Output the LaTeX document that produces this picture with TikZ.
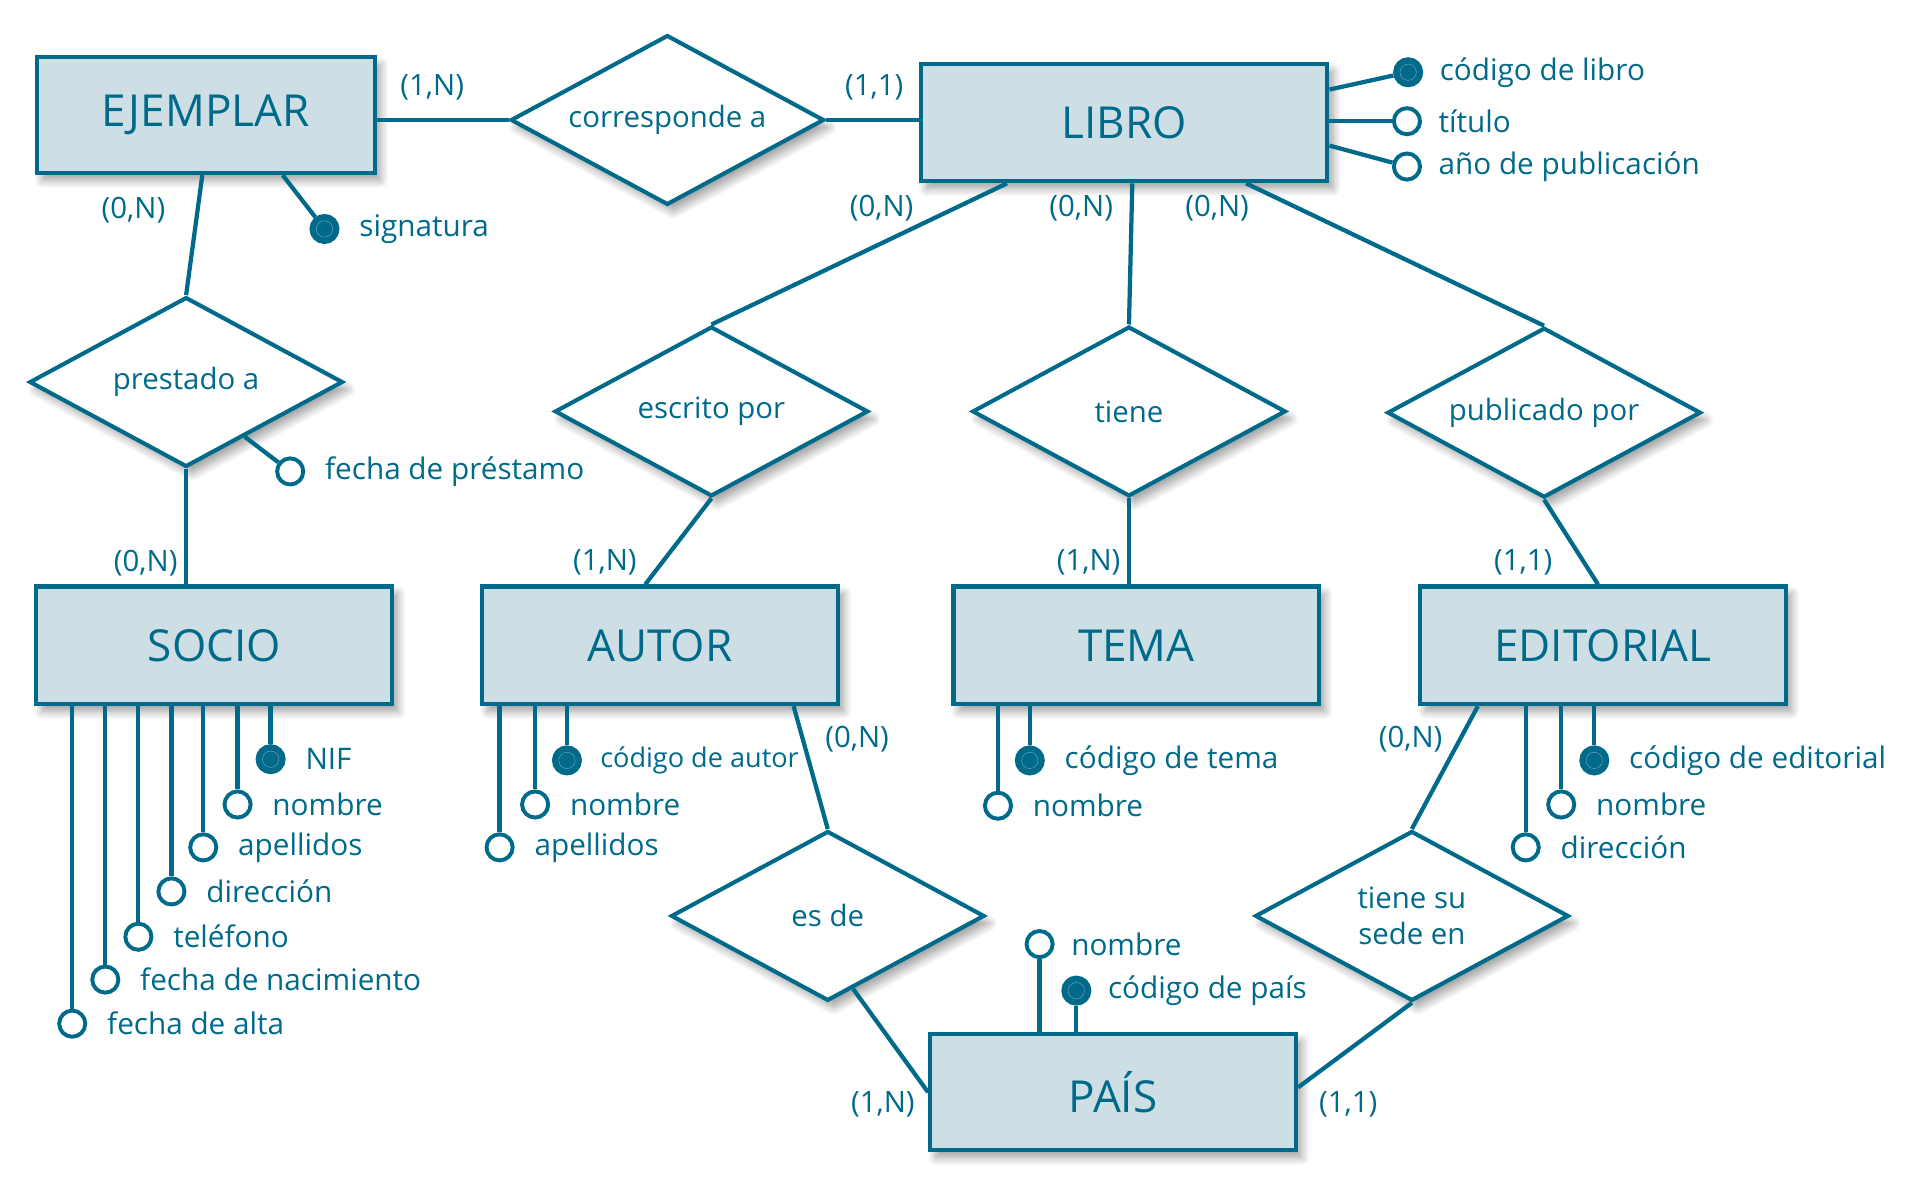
\documentclass[tikz,border=0pt]{standalone}
\usepackage{fontspec}
\setmainfont{Open Sans}
\usetikzlibrary{shapes.geometric,positioning,calc,shadows.blur}
\definecolor{erblue}{RGB}{0,106,138}
\definecolor{erfill}{RGB}{205,223,229}

\begin{document}
\begin{tikzpicture}[x=0.75pt,y=0.75pt,yscale=-1,xscale=1,
  every node/.style={text=erblue},
  softshadow/.style={blur shadow={shadow xshift=3.5pt, shadow yshift=-4.5pt, shadow opacity=38, shadow blur radius=5pt, shadow blur steps=10}},
  entity/.style={draw=erblue, fill=erfill, line width=2.6pt, minimum height=71pt, inner sep=2pt, font=\fontsize{27}{31}\selectfont, softshadow},
  relation/.style={diamond, aspect=1.82, draw=erblue, fill=white, line width=2.5pt, minimum width=192pt, minimum height=104pt, inner sep=1pt, align=center, font=\fontsize{18}{22.5}\selectfont, softshadow},
  attr/.style={circle, draw=erblue, fill=white, line width=2.4pt, minimum size=16pt, inner sep=0pt},
  keyattr/.style={attr, fill=erblue, path picture={\draw [erfill!50!erblue, line width=0.3pt] (path picture bounding box.center) circle [radius=5pt];}},
  attrtext/.style={font=\fontsize{18.2}{21}\selectfont, inner sep=1pt},
  card/.style={font=\fontsize{18}{21}\selectfont, inner sep=0.75pt},
  link/.style={draw=erblue, line width=2.6pt},
]
\useasboundingbox (0,0) rectangle (1568,967);

% Entities
\node (ejemplar) [entity, minimum width=207pt] at (168,94) {EJEMPLAR};
\node (libro) [entity, minimum width=249pt, minimum height=72pt] at (918,100) {LIBRO};
\node (socio) [entity, minimum width=218pt, minimum height=72pt] at (175,527) {SOCIO};
\node (autor) [entity, minimum width=218pt, minimum height=72pt] at (539,527) {AUTOR};
\node (tema) [entity, minimum width=224pt, minimum height=72pt] at (928,527) {TEMA};
\node (editorial) [entity, minimum width=224pt, minimum height=72pt] at (1309,527) {EDITORIAL};
\node (pais) [entity, minimum width=224pt] at (909,892) {PAÍS};

% Relationships
\node (corresponde) [relation] at (545,98) {corresponde a};
\node (prestado) [relation] at (152,312) {prestado a};
\node (escrito) [relation] at (581,336) {escrito por};
\node (tiene) [relation] at (922,336) {tiene};
\node (publicado) [relation] at (1261,337) {publicado por};
\node (esde) [relation] at (676,748) {es de};
\node (sede) [relation] at (1153,748) {tiene su\\sede en};

% Connectors
\draw [link] (ejemplar.east |- corresponde.west) -- (corresponde.west);
\draw [link] (corresponde.east) -- (corresponde.east -| libro.west);
\draw [link] ($(ejemplar.south west)!.49!(ejemplar.south east)$) -- (prestado.north);
\draw [link] (prestado.south) -- (prestado.south |- socio.north);
\draw [link] ($(libro.south west)!.215!(libro.south east)$) -- (escrito.north);
\draw [link] ($(libro.south west)!.52!(libro.south east)$) -- (tiene.north);
\draw [link] ($(libro.south west)!.797!(libro.south east)$) -- (publicado.north);
\draw [link] (escrito.south) -- ($(autor.north west)!.459!(autor.north east)$);
\draw [link] (tiene.south) -- (tiene.south |- tema.north);
\draw [link] (publicado.south) -- ($(editorial.north west)!.487!(editorial.north east)$);
\draw [link] ($(autor.south west)!.871!(autor.south east)$) -- (esde.north);
\draw [link] ($(esde.south)!.16!(esde.east)$) -- (pais.west);
\draw [link] ($(editorial.south west)!.162!(editorial.south east)$) -- (sede.north);
\draw [link] (sede.south) -- ($(pais.north east)!.46!(pais.south east)$);

% Cardinalities
\node (c-ej-co) [card] at (353,71) {(1,N)};
\node (c-li-co) [card] at (714,71) {(1,1)};
\node (c-ej-pr) [card] at (109,172) {(0,N)};
\node (c-so-pr) [card] at (119,460) {(0,N)};
\node (c-li-es) [card] at (720,170) {(0,N)};
\node (c-li-ti) [card] at (883,170) {(0,N)};
\node (c-li-pu) [card] at (994,170) {(0,N)};
\node (c-au-es) [card] at (494,459) {(1,N)};
\node (c-te-ti) [card] at (889,459) {(1,N)};
\node (c-ed-pu) [card] at (1244,459) {(1,1)};
\node (c-au-de) [card] at (700,604) {(0,N)};
\node (c-ed-se) [card] at (1152,604) {(0,N)};
\node (c-pa-de) [card] at (721,902) {(1,N)};
\node (c-pa-se) [card] at (1101,902) {(1,1)};

% Attributes of EJEMPLAR
\node (sig) [keyattr] at (265,187) {};
\node (sig-t) [attrtext, right=11pt of sig] {signatura};
\draw [link] (sig) -- ($(ejemplar.south west)!.725!(ejemplar.south east)$);

% Attributes of LIBRO
\node (codlibro) [keyattr] at (1150,59) {};
\node (codlibro-t) [attrtext, right=9pt of codlibro] {código de libro};
\node (titulo) [attr] at (1149,99) {};
\node (titulo-t) [attrtext, right=9pt of titulo] {título};
\node (anio) [attr] at (1149,136) {};
\node (anio-t) [attrtext, right=9pt of anio] {año de publicación};
\draw [link] (codlibro) -- ($(libro.north east)!.23!(libro.south east)$);
\draw [link] (titulo) -- (titulo -| libro.east);
\draw [link] (anio) -- ($(libro.north east)!.69!(libro.south east)$);

% Attribute of prestado a
\node (fprest) [attr] at (237,385) {};
\node (fprest-t) [attrtext, right=11pt of fprest] {fecha de préstamo};
\draw [link] (fprest) -- ($(prestado.south)!.37!(prestado.east)$);

% Attributes of SOCIO
\node (nif) [keyattr] at (221,620) {};
\node (nif-t) [attrtext, right=11pt of nif] {NIF};
\node (snombre) [attr] at (194,657) {};
\node (snombre-t) [attrtext, right=11pt of snombre] {nombre};
\node (sapellidos) [attr] at (166,692) {};
\node (sapellidos-t) [attrtext, right=11pt of sapellidos] {apellidos};
\node (sdireccion) [attr] at (140,728) {};
\node (sdireccion-t) [attrtext, right=11pt of sdireccion] {dirección};
\node (stelefono) [attr] at (113,765) {};
\node (stelefono-t) [attrtext, right=11pt of stelefono] {teléfono};
\node (sfechanac) [attr] at (86,800) {};
\node (sfechanac-t) [attrtext, right=11pt of sfechanac] {fecha de nacimiento};
\node (sfechaalta) [attr] at (59,836) {};
\node (sfechaalta-t) [attrtext, right=11pt of sfechaalta] {fecha de alta};
\draw [link] (nif.north) -- (nif.north |- socio.south);
\draw [link] (snombre.north) -- (snombre.north |- socio.south);
\draw [link] (sapellidos.north) -- (sapellidos.north |- socio.south);
\draw [link] (sdireccion.north) -- (sdireccion.north |- socio.south);
\draw [link] (stelefono.north) -- (stelefono.north |- socio.south);
\draw [link] (sfechanac.north) -- (sfechanac.north |- socio.south);
\draw [link] (sfechaalta.north) -- (sfechaalta.north |- socio.south);

% Attributes of AUTOR
\node (codautor) [keyattr] at (463,621) {};
\node (codautor-t) [attrtext, font=\fontsize{16.6}{21}\selectfont, right=10pt of codautor] {código de autor};
\node (anombre) [attr] at (437,657) {};
\node (anombre-t) [attrtext, right=11pt of anombre] {nombre};
\node (aapellidos) [attr] at (408,692) {};
\node (aapellidos-t) [attrtext, right=11pt of aapellidos] {apellidos};
\draw [link] (codautor.north) -- (codautor.north |- autor.south);
\draw [link] (anombre.north) -- (anombre.north |- autor.south);
\draw [link] (aapellidos.north) -- (aapellidos.north |- autor.south);

% Attributes of TEMA
\node (codtema) [keyattr] at (841,621) {};
\node (codtema-t) [attrtext, right=11pt of codtema] {código de tema};
\node (tnombre) [attr] at (815,658) {};
\node (tnombre-t) [attrtext, right=11pt of tnombre] {nombre};
\draw [link] (codtema.north) -- (codtema.north |- tema.south);
\draw [link] (tnombre.north) -- (tnombre.north |- tema.south);

% Attributes of EDITORIAL
\node (codedit) [keyattr] at (1302,621) {};
\node (codedit-t) [attrtext, right=11pt of codedit] {código de editorial};
\node (enombre) [attr] at (1275,657) {};
\node (enombre-t) [attrtext, right=11pt of enombre] {nombre};
\node (edireccion) [attr] at (1246,692) {};
\node (edireccion-t) [attrtext, right=11pt of edireccion] {dirección};
\draw [link] (codedit.north) -- (codedit.north |- editorial.south);
\draw [link] (enombre.north) -- (enombre.north |- editorial.south);
\draw [link] (edireccion.north) -- (edireccion.north |- editorial.south);

% Attributes of PAIS
\node (pnombre) [attr] at (849,771) {};
\node (pnombre-t) [attrtext, right=9pt of pnombre] {nombre};
\node (codpais) [keyattr] at (879,809) {};
\node (codpais-t) [attrtext, right=9pt of codpais] {código de país};
\draw [link] (pnombre.south) -- (pnombre.south |- pais.north);
\draw [link] (codpais.south) -- (codpais.south |- pais.north);

\end{tikzpicture}
\end{document}
